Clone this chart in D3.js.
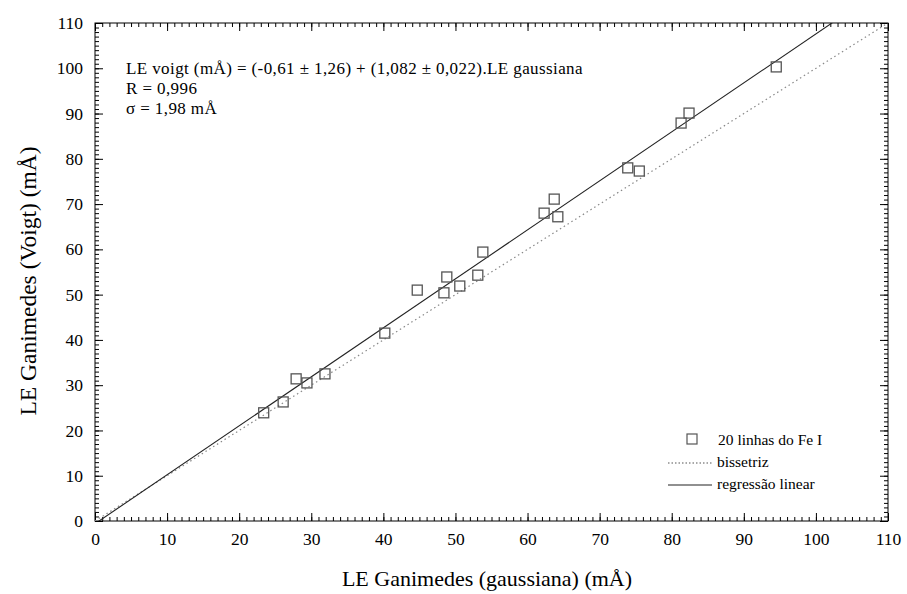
<!DOCTYPE html>
<html><head><meta charset="utf-8">
<script src="https://cdn.jsdelivr.net/npm/d3@7"></script>
<style>body{margin:0;background:#fff;} svg{display:block;}</style>
</head><body><svg id="c" width="907" height="594"></svg>
<script>
const gaussX = [23.4,26.1,27.9,29.4,31.9,40.2,44.7,48.4,48.8,50.6,53.1,53.8,62.3,63.7,64.2,73.9,75.5,81.3,82.4,94.5];
const voigtY = [23.9,26.3,31.4,30.5,32.5,41.5,51.0,50.4,53.9,51.9,54.3,59.4,68.0,71.1,67.2,78.0,77.3,87.9,90.1,100.3];
const tickValues = [0,10,20,30,40,50,60,70,80,90,100,110];
const regIntercept = -0.61, regSlope = 1.082;
const annotation = ["LE voigt (mÅ) = (-0,61 ± 1,26) + (1,082 ± 0,022).LE gaussiana","R = 0,996","σ = 1,98 mÅ"];
const legendLabels = ["20 linhas do Fe I","bissetriz","regressão linear"];
const xTitle = "LE Ganimedes (gaussiana) (mÅ)";
const yTitle = "LE Ganimedes (Voigt) (mÅ)";

const FONT = "'Liberation Serif', 'Times New Roman', Times, 'DejaVu Serif', serif";
const svg = d3.select("#c").attr("font-family", FONT);
const L=95,R=888,T=23,B=521;
const x = d3.scaleLinear().domain([0,110]).range([L,R]);
const y = d3.scaleLinear().domain([0,110]).range([B,T]);
const minor = d3.range(0,111,1);

svg.append("defs").append("clipPath").attr("id","clip").append("rect").attr("x",L).attr("y",T).attr("width",R-L).attr("height",B-T);

function mkAxis(axisFn, scale, transform, labels){
  const gMinor = svg.append("g").attr("transform",transform).call(axisFn(scale).tickValues(minor).tickSize(-4).tickFormat(""));
  gMinor.select(".domain").remove();
  const gMaj = svg.append("g").attr("transform",transform).call(axisFn(scale).tickValues(tickValues).tickSize(-8).tickPadding(labels?12:0).tickFormat(labels? d3.format("d"):""));
  gMaj.select(".domain").remove();
  [gMinor,gMaj].forEach(g=>{g.attr("font-family",FONT); g.selectAll("line").attr("stroke","#000");});
  gMaj.selectAll("text").attr("font-family",FONT).style("font-family",FONT).style("font-size","17.5px").attr("fill","#000");
  return gMaj;
}
mkAxis(d3.axisBottom, x, `translate(0,${B})`, true);
mkAxis(d3.axisTop, x, `translate(0,${T})`, false);
mkAxis(d3.axisLeft, y, `translate(${L},0)`, true);
mkAxis(d3.axisRight, y, `translate(${R},0)`, false);
svg.append("rect").attr("x",L).attr("y",T).attr("width",R-L).attr("height",B-T).attr("fill","none").attr("stroke","#000").attr("stroke-width",1);

const plot = svg.append("g").attr("clip-path","url(#clip)");
plot.append("line").attr("x1",x(0)).attr("y1",y(0)).attr("x2",x(110)).attr("y2",y(110))
  .attr("stroke","#888").attr("stroke-width",1.2).attr("stroke-dasharray","1.5,3");
const rx0=0, rx1=110;
plot.append("line").attr("x1",x(rx0)).attr("y1",y(regIntercept+regSlope*rx0)).attr("x2",x(rx1)).attr("y2",y(regIntercept+regSlope*rx1))
  .attr("stroke","#222").attr("stroke-width",1.1);
const s=10;
plot.selectAll("rect.pt").data(gaussX.map((g,i)=>[g,voigtY[i]])).enter().append("rect").attr("class","pt")
  .attr("x",d=>x(d[0])-s/2).attr("y",d=>y(d[1])-s/2).attr("width",s).attr("height",s)
  .attr("fill","none").attr("stroke","#555").attr("stroke-width",1.3);

function txt(xp,yp,t,size,anchor,ls){
  return svg.append("text").attr("x",xp).attr("y",yp).attr("text-anchor",anchor||"start")
    .style("font-family",FONT).style("font-size",size+"px").style("letter-spacing",(ls||0)+"px").attr("fill","#000").text(t);
}
annotation.forEach((t,i)=>txt(126,74+i*20,t,17,"start",0.4));

const lg = svg.append("g");
lg.append("rect").attr("x",687).attr("y",434).attr("width",10).attr("height",10).attr("fill","none").attr("stroke","#555").attr("stroke-width",1.2);
lg.append("line").attr("x1",668).attr("x2",712).attr("y1",463).attr("y2",463).attr("stroke","#555").attr("stroke-width",1.2).attr("stroke-dasharray","1.5,2");
lg.append("line").attr("x1",668).attr("x2",712).attr("y1",485).attr("y2",485).attr("stroke","#222").attr("stroke-width",1.1);
legendLabels.forEach((t,i)=>txt(i==0?718:717,445+i*22,t,15.5));

txt(487,586,xTitle,22,"middle");
svg.append("text").attr("transform",`translate(36,281) rotate(-90)`).attr("text-anchor","middle")
  .style("font-family",FONT).style("font-size","23.5px").attr("fill","#000").text(yTitle);
</script></body></html>
